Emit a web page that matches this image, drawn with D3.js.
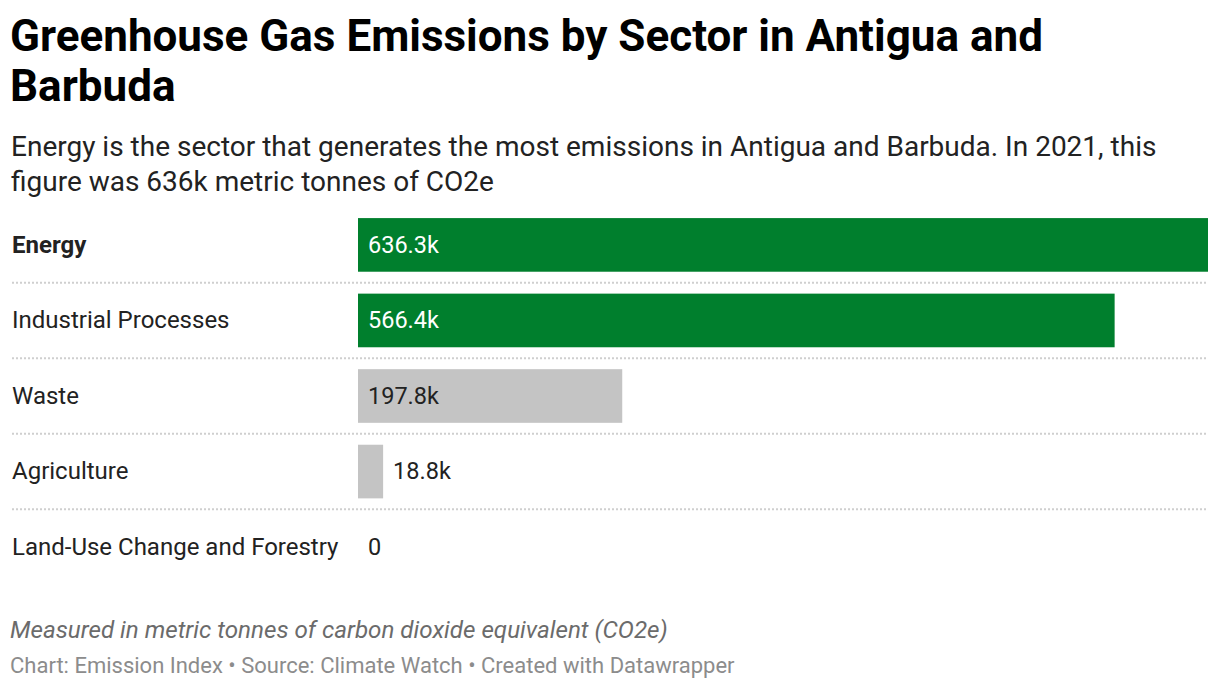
<!DOCTYPE html>
<html>
<head>
<meta charset="utf-8">
<script src="https://cdn.jsdelivr.net/npm/d3@7"></script>
<style>
  body { margin: 0; background: #fff; font-family: Roboto, sans-serif; }
  svg text { font-family: Roboto, sans-serif; }
</style>
</head>
<body>
<svg width="1220" height="690"></svg>
<script>
const sectors = ["Energy", "Industrial Processes", "Waste", "Agriculture", "Land-Use Change and Forestry"];
const emissions = [636.3, 566.4, 197.8, 18.8, 0];
const highlighted = ["Energy", "Industrial Processes"];

const svg = d3.select("svg");

// title + description
const title = svg.append("g").attr("font-weight", 700).attr("font-size", 44).attr("fill", "#000");
title.append("text").attr("x", 10).attr("y", 51).text("Greenhouse Gas Emissions by Sector in Antigua and");
title.append("text").attr("x", 10).attr("y", 101).text("Barbuda");

const desc = svg.append("g").attr("font-size", 28).attr("fill", "#222");
desc.append("text").attr("x", 11).attr("y", 156).text("Energy is the sector that generates the most emissions in Antigua and Barbuda. In 2021, this");
desc.append("text").attr("x", 11).attr("y", 191).text("figure was 636k metric tonnes of CO2e");

// scales
const scaleX = d3.scaleLinear()
  .domain([0, d3.max(emissions)])
  .range([358, 1208]);

const scaleY = d3.scaleBand()
  .domain(sectors)
  .range([206, 586])
  .paddingInner(0.29)
  .paddingOuter(0.16);

const rowStep = scaleY.step();

const rows = svg.selectAll("g.row")
  .data(sectors)
  .enter()
  .append("g")
  .attr("class", "row");

rows.append("text")
  .attr("x", 12)
  .attr("y", d => scaleY(d) + scaleY.bandwidth() / 2 - 0.5)
  .attr("dy", "0.35em")
  .attr("font-size", 24)
  .attr("font-weight", (d, i) => i === 0 ? 700 : 400)
  .attr("fill", "#222")
  .text(d => d);

rows.append("rect")
  .attr("x", scaleX(0))
  .attr("y", d => scaleY(d))
  .attr("height", scaleY.bandwidth())
  .attr("width", (d, i) => scaleX(emissions[i]) - scaleX(0))
  .attr("fill", d => highlighted.includes(d) ? "#007f2d" : "#c4c4c4");

const fmt = v => v === 0 ? "0" : v.toFixed(1) + "k";

rows.append("text")
  .attr("x", (d, i) => {
    const w = scaleX(emissions[i]) - scaleX(0);
    return w > 100 ? scaleX(0) + 10 : scaleX(emissions[i]) + 10;
  })
  .attr("y", d => scaleY(d) + scaleY.bandwidth() / 2 - 0.5)
  .attr("dy", "0.35em")
  .attr("font-size", 23.5)
  .attr("fill", (d, i) => (scaleX(emissions[i]) - scaleX(0) > 100 && highlighted.includes(d)) ? "#fff" : "#222")
  .text((d, i) => fmt(emissions[i]));

// dotted separators between rows
svg.selectAll("line.sep")
  .data(sectors.slice(0, -1))
  .enter()
  .append("line")
  .attr("class", "sep")
  .attr("x1", 12)
  .attr("x2", 1208)
  .attr("y1", d => scaleY(d) + scaleY.bandwidth() + (rowStep - scaleY.bandwidth()) / 2)
  .attr("y2", d => scaleY(d) + scaleY.bandwidth() + (rowStep - scaleY.bandwidth()) / 2)
  .attr("stroke", "#cfcfcf")
  .attr("stroke-width", 2)
  .attr("stroke-dasharray", "2,2");

// notes
svg.append("text")
  .attr("x", 10).attr("y", 638)
  .attr("font-size", 24.2).attr("font-style", "italic").attr("fill", "#6b6b6b")
  .text("Measured in metric tonnes of carbon dioxide equivalent (CO2e)");

svg.append("text")
  .attr("x", 10).attr("y", 673)
  .attr("font-size", 22).attr("fill", "#8c8c8c")
  .text("Chart: Emission Index \u2022 Source: Climate Watch \u2022 Created with Datawrapper");
</script>
</body>
</html>
